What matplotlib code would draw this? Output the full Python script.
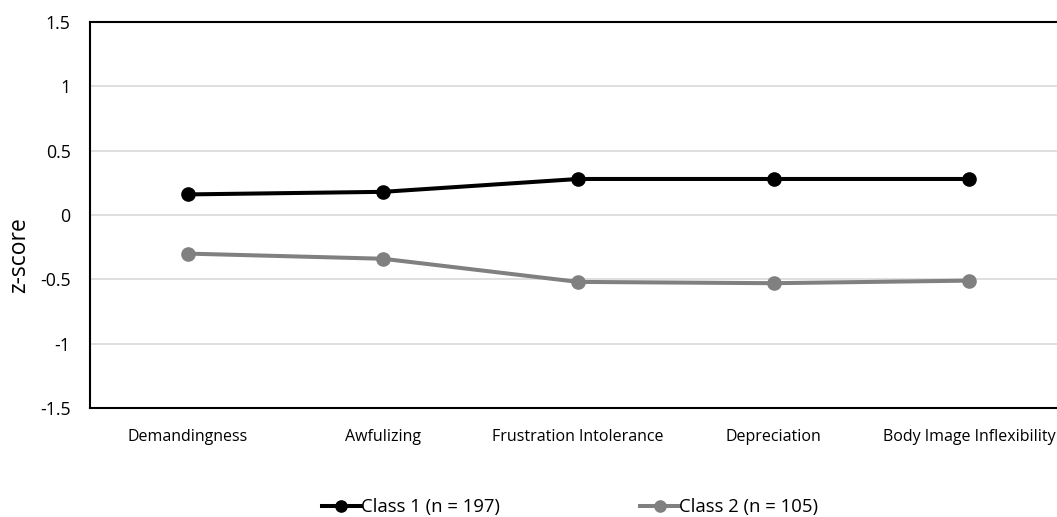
import matplotlib
matplotlib.use("Agg")
import matplotlib.pyplot as plt

categories = ["Demandingness", "Awfulizing", "Frustration Intolerance", "Depreciation", "Body Image Inflexibility"]
class1 = [0.16, 0.18, 0.28, 0.28, 0.28]
class2 = [-0.30, -0.34, -0.52, -0.53, -0.51]
series_labels = ["Class 1 (n = 197)", "Class 2 (n = 105)"]
yticks = [-1.5, -1, -0.5, 0, 0.5, 1, 1.5]
ytick_labels = ["-1.5", "-1", "-0.5", "0", "0.5", "1", "1.5"]

plt.rcParams['font.family'] = ['Open Sans', 'DejaVu Sans']

fig = plt.figure(figsize=(10.57, 5.17), dpi=100)
ax = fig.add_axes([90/1057, 109/517, 976.5/1057, 386/517])

x = list(range(len(categories)))
ax.plot(x, class1, color='black', lw=2.9, marker='o', markersize=9.5, label=series_labels[0], zorder=3)
ax.plot(x, class2, color='#808080', lw=2.9, marker='o', markersize=9.5, label=series_labels[1], zorder=3)

ax.set_xlim(-0.5, 4.5)
ax.set_ylim(-1.5, 1.5)
ax.set_yticks(yticks)
ax.set_yticklabels(ytick_labels, fontsize=12.8)
ax.set_xticks(x)
ax.set_xticklabels(categories, fontsize=11.5)
ax.tick_params(axis='x', length=0, pad=15)
ax.tick_params(axis='y', length=0, pad=14)
ax.grid(axis='y', color='#d9d9d9', lw=1.2, zorder=0)
ax.set_axisbelow(True)
for s in ['left', 'top', 'bottom']:
    ax.spines[s].set_color('black')
    ax.spines[s].set_linewidth(1.5)
ax.spines['right'].set_visible(False)
ax.set_ylabel("z-score", fontsize=16.5)
ax.yaxis.set_label_coords(-0.06, 0.396)

fig.legend(loc='center', bbox_to_anchor=(570/1057, 1 - 507/517), ncol=2, frameon=False,
           fontsize=13.3, handlelength=2.1, handletextpad=0.0, columnspacing=7.6, borderaxespad=0,
           markerscale=0.85)

fig.savefig("out.png", dpi=100)
